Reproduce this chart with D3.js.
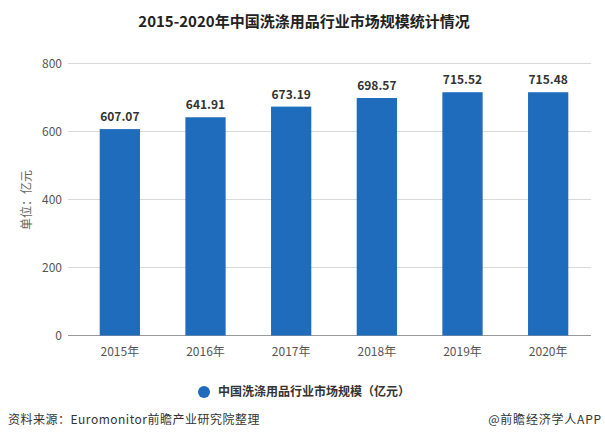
<!DOCTYPE html>
<html>
<head>
<meta charset="utf-8">
<script src="https://cdn.jsdelivr.net/npm/d3@7"></script>
<style>
  body { margin: 0; background: #fff; }
  text { font-family: "Microsoft YaHei", "Noto Sans CJK SC", sans-serif; }
</style>
</head>
<body>
<div id="chart"></div>
<script>
const years = ["2015年", "2016年", "2017年", "2018年", "2019年", "2020年"];
const values = [607.07, 641.91, 673.19, 698.57, 715.52, 715.48];
const yTicks = [0, 200, 400, 600, 800];

const width = 605;
const height = 439;

const svg = d3.select("#chart")
  .append("svg")
  .attr("width", width)
  .attr("height", height);

const x = d3.scaleBand()
  .domain(years)
  .range([77, 591])
  .paddingInner(0.53)
  .paddingOuter(0.265);

const y = d3.scaleLinear()
  .domain([0, 800])
  .range([335.5, 63.5]);

// TITLE
svg.append("text")
  .attr("x", 304)
  .attr("y", 27)
  .attr("text-anchor", "middle")
  .style("font-size", "15px")
  .style("font-weight", "bold")
  .style("fill", "#222")
  .text("2015-2020年中国洗涤用品行业市场规模统计情况");

// GRID
svg.append("g")
  .selectAll("line")
  .data(yTicks)
  .enter()
  .append("line")
  .attr("x1", 68)
  .attr("x2", 591)
  .attr("y1", d => y(d))
  .attr("y2", d => y(d))
  .attr("stroke", d => d === 0 ? "#999" : "#d9d9d9")
  .attr("stroke-width", 1);

// Y TICK LABELS
svg.append("g")
  .selectAll("text")
  .data(yTicks)
  .enter()
  .append("text")
  .attr("x", 62)
  .attr("y", d => y(d) + 4)
  .attr("text-anchor", "end")
  .style("font-size", "12px")
  .style("fill", "#555")
  .text(d => d);

// Y AXIS TITLE
svg.append("text")
  .attr("transform", "translate(31,200) rotate(-90)")
  .attr("text-anchor", "middle")
  .style("font-size", "12px")
  .style("fill", "#666")
  .text("单位：亿元");

// BARS
svg.append("g")
  .selectAll("rect")
  .data(values)
  .enter()
  .append("rect")
  .attr("x", (d, i) => x(years[i]))
  .attr("y", d => y(d))
  .attr("width", x.bandwidth())
  .attr("height", d => y(0) - y(d))
  .attr("fill", "#1f6cbd");

// VALUE LABELS
svg.append("g")
  .selectAll("text")
  .data(values)
  .enter()
  .append("text")
  .attr("x", (d, i) => x(years[i]) + x.bandwidth() / 2)
  .attr("y", d => y(d) - 8)
  .attr("text-anchor", "middle")
  .style("font-size", "12px")
  .style("font-weight", "bold")
  .style("fill", "#333")
  .text(d => d.toFixed(2));

// X LABELS
svg.append("g")
  .selectAll("text")
  .data(years)
  .enter()
  .append("text")
  .attr("x", d => x(d) + x.bandwidth() / 2)
  .attr("y", 356)
  .attr("text-anchor", "middle")
  .style("font-size", "12px")
  .style("fill", "#555")
  .text(d => d);

// LEGEND
svg.append("circle")
  .attr("cx", 204)
  .attr("cy", 392)
  .attr("r", 6)
  .attr("fill", "#1f6cbd");

svg.append("text")
  .attr("x", 218)
  .attr("y", 396)
  .style("font-size", "12px")
  .style("font-weight", "bold")
  .style("fill", "#333")
  .text("中国洗涤用品行业市场规模（亿元）");

// FOOTER
svg.append("text")
  .attr("x", 8)
  .attr("y", 424)
  .style("font-size", "12px")
  .style("letter-spacing", "0.5px")
  .style("fill", "#333")
  .text("资料来源：Euromonitor前瞻产业研究院整理");

svg.append("text")
  .attr("x", 602)
  .attr("y", 424)
  .attr("text-anchor", "end")
  .style("font-size", "12px")
  .style("letter-spacing", "0.8px")
  .style("fill", "#333")
  .text("@前瞻经济学人APP");
</script>
</body>
</html>
